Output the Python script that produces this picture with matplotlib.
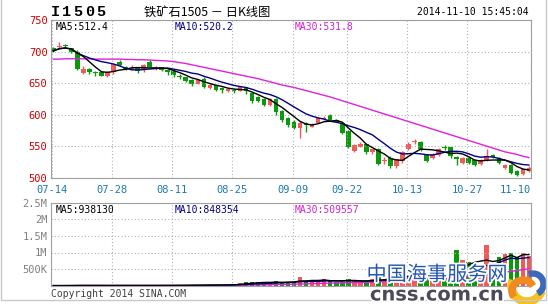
import matplotlib.pyplot as plt
import matplotlib.patches as mpatches
import matplotlib.patheffects as pe
import numpy as np
import pandas as pd

plt.rcParams['font.family'] = ['DejaVu Sans Mono', 'Noto Sans CJK SC']

# daily K data, 07-14 .. 11-10
opens = [706, 707, 709, 705, 700, 666, 673, 667, 667, 662,
         667, 684, 676, 673, 674, 671, 684, 672, 675, 670,
         669, 661, 659, 655, 649, 657, 642, 647, 642, 638,
         638, 638, 643, 634, 628, 624, 615, 625, 606, 595,
         589, 578, 586, 581, 587, 593, 599, 592, 587, 574,
         543, 549, 554, 540, 546, 526, 531, 518, 526, 545,
         556, 557, 536, 531, 536, 548, 548, 533, 524, 532,
         528, 522, 528, 536, 532, 515, 520, 511, 506, 511]
closes = [701, 708, 708, 699, 672, 673, 667, 666, 662, 667,
          680, 678, 672, 674, 669, 679, 676, 673, 670, 667,
          663, 660, 653, 648, 655, 644, 647, 639, 639, 641,
          637, 643, 637, 621, 621, 615, 625, 604, 592, 584,
          579, 587, 583, 585, 594, 595, 591, 589, 571, 549,
          552, 553, 540, 545, 522, 527, 518, 529, 541, 554,
          557, 545, 527, 538, 546, 547, 534, 530, 531, 524,
          520, 528, 535, 533, 524, 520, 508, 504, 513, 516]
highs = [707, 715, 712, 706, 702, 677, 674, 669, 668, 669,
         682, 686, 677, 678, 675, 681, 687, 677, 676, 672,
         670, 664, 660, 656, 657, 660, 650, 648, 643, 642,
         641, 645, 644, 635, 629, 626, 627, 626, 607, 596,
         591, 590, 588, 587, 596, 598, 601, 593, 588, 575,
         553, 557, 555, 546, 547, 533, 535, 530, 543, 556,
         561, 558, 537, 539, 547, 552, 549, 534, 533, 534,
         529, 530, 545, 538, 533, 522, 521, 512, 514, 519]
lows = [699, 706, 705, 698, 670, 664, 665, 662, 661, 660,
        665, 677, 670, 671, 666, 667, 675, 671, 669, 663,
        660, 656, 651, 645, 648, 642, 640, 637, 635, 636,
        634, 637, 632, 618, 620, 614, 614, 600, 589, 580,
        577, 563, 573, 580, 586, 592, 590, 588, 569, 547,
        541, 548, 538, 538, 520, 522, 515, 516, 524, 544,
        553, 543, 525, 529, 535, 544, 532, 520, 522, 522,
        519, 520, 527, 531, 522, 513, 506, 502, 505, 509]
ma30 = [688, 688, 688.5, 688.5, 688.5, 688.5, 688.5, 688, 688, 688,
        688, 688, 687.5, 687.5, 687, 687, 686.5, 686, 685.5, 685,
        684, 682.5, 681, 679, 677, 675, 673, 671, 669, 667,
        665, 663, 661, 659, 657, 654.5, 652, 649.5, 647, 645,
        643, 640.5, 638, 635.5, 633, 630.5, 628, 625, 622, 619,
        616, 613, 610, 607, 604, 601, 598, 595, 592, 589,
        586, 583, 580, 577, 574, 571, 568, 565, 562, 559,
        556, 553, 550, 547, 544, 541, 539, 537, 534, 532]
# volume in thousands
volumes = [3, 2, 4, 6, 10, 8, 5, 4, 6, 5,
           8, 6, 5, 4, 6, 9, 7, 5, 6, 8,
           12, 10, 14, 18, 15, 25, 20, 18, 22, 30,
           40, 90, 100, 110, 100, 90, 100, 130, 90, 120,
           120, 250, 150, 150, 120, 190, 150, 120, 120, 190,
           150, 120, 120, 190, 250, 200, 300, 250, 350, 300,
           250, 300, 350, 280, 250, 220, 380, 1070, 775, 723,
           570, 570, 1220, 560, 860, 960, 990, 860, 990, 890]

tick_idx = [0, 10, 20, 30, 40, 49, 59, 69, 79]
tick_lbl = ['07-14', '07-28', '08-11', '08-25', '09-09', '09-22', '10-13', '10-27', '11-10']
price_ticks = [500, 550, 600, 650, 700, 750]
vol_ticks = [500, 1000, 1500, 2000, 2500]
vol_lbl = ['500K', '1M', '1.5M', '2M', '2.5M']

RED = '#f05a5a'
GREEN = '#0a990a'
FRAME = '#a0a0a0'
GRID = '#b0b0b0'

W, H = 548, 304
fig = plt.figure(figsize=(W / 100, H / 100), dpi=100)

o = np.array(opens); c = np.array(closes)
hi = np.array(highs); lo = np.array(lows)
v = np.array(volumes) * 1000.0
x = np.arange(len(o))
up = c >= o
cols = np.where(up, RED, GREEN)

ma5 = pd.Series(c).rolling(5, min_periods=1).mean()
ma10 = pd.Series(c).rolling(10, min_periods=1).mean()
vma5 = pd.Series(v).rolling(5, min_periods=1).mean()
vma10 = pd.Series(v).rolling(10, min_periods=1).mean()
vma30 = pd.Series(v).rolling(30, min_periods=1).mean()

xl = (-0.38, 79.3)

# price panel
ax = fig.add_axes([51 / W, 1 - 177.7 / H, 479.7 / W, 157.7 / H])
ax.vlines(x, lo, hi, colors=cols, lw=1)
body = np.maximum(np.abs(c - o), 1.6)
ax.bar(x, body, bottom=np.minimum(o, c), width=0.75, color=cols, lw=0)
ax.plot(x, ma30, color='#e020e0', lw=1)
ax.plot(x, ma10, color='#000080', lw=1)
ax.plot(x, ma5, color='black', lw=1)
ax.set_xlim(xl)
ax.set_ylim(500, 750)
ax.set_yticks(price_ticks)
ax.set_yticklabels([str(t) for t in price_ticks], color='#cc0000', fontsize=7.5)
ax.set_xticks([t - 0.25 for t in tick_idx[:-1]] + [xl[1]])
ax.set_xticklabels(tick_lbl, color='#1a78b4', fontsize=7.5)
ax.get_xticklabels()[-1].set_ha('right')
ax.tick_params(length=0, pad=2.5)
ax.tick_params(axis='x', pad=5)
ax.grid(True, color=GRID, ls=(0, (1, 2)), lw=0.8)
for s in ax.spines.values():
    s.set_color(FRAME)
ax.text(0.01, 0.985, 'MA5:512.4', transform=ax.transAxes, fontsize=7, va='top', color='black')
ax.text(0.257, 0.985, 'MA10:520.2', transform=ax.transAxes, fontsize=7, va='top', color='#000080')
ax.text(0.508, 0.985, 'MA30:531.8', transform=ax.transAxes, fontsize=7, va='top', color='#d020d0')

# volume panel
ax2 = fig.add_axes([51 / W, 1 - 285.7 / H, 479.7 / W, 83 / H])
ax2.bar(x, v, width=0.75, color=cols, lw=0)
ax2.plot(x, vma30, color='#e020e0', lw=1)
ax2.plot(x, vma10, color='#000080', lw=1)
ax2.plot(x, vma5, color='black', lw=1)
ax2.set_xlim(xl)
ax2.set_ylim(0, 2500000)
ax2.set_yticks([t * 1000 for t in vol_ticks])
ax2.set_yticklabels(vol_lbl, color='#808080', fontsize=7.5)
ax2.set_xticks([t - 0.25 for t in tick_idx[1:-1]])
ax2.set_xticklabels([])
ax2.tick_params(length=0, pad=2.5)
ax2.grid(True, color=GRID, ls=(0, (1, 2)), lw=0.8)
for s in ax2.spines.values():
    s.set_color(FRAME)
ax2.text(0.01, 0.97, 'MA5:938130', transform=ax2.transAxes, fontsize=7, va='top', color='black')
ax2.text(0.257, 0.97, 'MA10:848354', transform=ax2.transAxes, fontsize=7, va='top', color='#000080')
ax2.text(0.508, 0.97, 'MA30:509557', transform=ax2.transAxes, fontsize=7, va='top', color='#d020d0')

# header
for k, ch in enumerate('I1505'):
    fig.text((55 + k * 11.5) / W, 1 - 12 / H, ch, fontsize=11, fontweight='bold',
             ha='center', va='center', family='Liberation Mono')
fig.text(207 / W, 1 - 12 / H, '铁矿石1505 － 日K线图', fontsize=8.8, ha='center', va='center',
         family=['Noto Sans CJK SC', 'DejaVu Sans'])
fig.text(529 / W, 1 - 12 / H, '2014-11-10 15:45:04', fontsize=7, ha='right', va='center')
fig.text(51 / W, 1 - 294 / H, 'Copyright 2014 SINA.COM', fontsize=7, ha='left', va='center', color='#404040')

# overlay in pixel coords: outer frame + site watermark
ov = fig.add_axes([0, 0, 1, 1], zorder=5)
ov.set_xlim(0, W)
ov.set_ylim(H, 0)
ov.axis('off')
ov.patch.set_alpha(0)
ov.plot([1, 1, 546, 546], [0, 300, 300, 0], color='#c8c8c8', lw=1)
halo = [pe.withStroke(linewidth=2.5, foreground='white')]
ov.text(437, 275, '中国海事服务网', fontsize=14.5, ha='center', va='center',
        color='#2456b0', family=['Noto Sans CJK SC', 'DejaVu Sans'], path_effects=halo)
ov.text(437, 295, 'cnss.com.cn', fontsize=14, fontweight='bold', ha='center', va='center',
        color='#4a4a58', family='DejaVu Sans', path_effects=halo)
ov.add_patch(mpatches.Wedge((527, 286), 19, 20, 200, width=7, color='#f5c020'))
ov.add_patch(mpatches.Wedge((523, 291), 14, 150, 330, width=6, color='#f08a20'))
ov.add_patch(mpatches.Wedge((533, 284), 13, 250, 60, width=5, color='#3a6ab8'))

fig.savefig('out.png', dpi=100)
